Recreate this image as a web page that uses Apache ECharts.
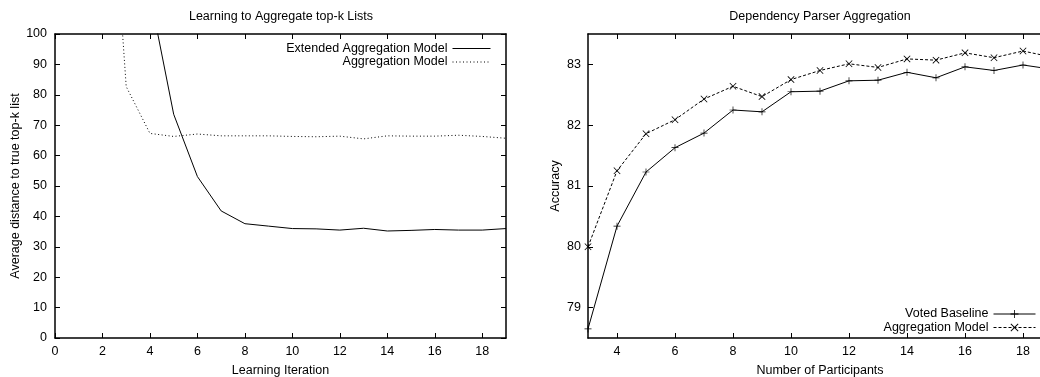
<!DOCTYPE html>
<html>
<head>
<meta charset="utf-8">
<script src="https://cdn.jsdelivr.net/npm/echarts@6/dist/echarts.min.js"></script>
<style>
html,body{margin:0;padding:0;background:#fff;}
#wrap{position:relative;width:1040px;height:377px;overflow:hidden;background:#fff;}
#c1{position:absolute;left:0;top:0;width:520px;height:377px;}
#c2{position:absolute;left:520px;top:0;width:520px;height:377px;}
</style>
</head>
<body>
<div id="wrap"><div id="c1"></div><div id="c2"></div></div>
<script>
// ---- Left chart data ----
const leftTitle = 'Learning to Aggregate top-k Lists';
const leftXName = 'Learning Iteration';
const leftYName = 'Average distance to true top-k list';
const leftXTicks = [0, 2, 4, 6, 8, 10, 12, 14, 16, 18];
const extName = 'Extended Aggregation Model';
const extX = [4, 5, 6, 7, 8, 9, 10, 11, 12, 13, 14, 15, 16, 17, 18, 19];
const extY = [113, 73.6, 53.1, 41.8, 37.6, 36.8, 36.0, 35.9, 35.5, 36.1, 35.2, 35.4, 35.7, 35.5, 35.5, 36.0];
const aggName = 'Aggregation Model';
const aggX = [2, 3, 4, 5, 6, 7, 8, 9, 10, 11, 12, 13, 14, 15, 16, 17, 18, 19];
const aggY = [196, 82.7, 67.3, 66.3, 67.1, 66.5, 66.5, 66.5, 66.3, 66.2, 66.4, 65.5, 66.5, 66.4, 66.4, 66.7, 66.3, 65.7];

// ---- Right chart data ----
const rightTitle = 'Dependency Parser Aggregation';
const rightXName = 'Number of Participants';
const rightYName = 'Accuracy';
const participants = [3, 4, 5, 6, 7, 8, 9, 10, 11, 12, 13, 14, 15, 16, 17, 18, 19];
const votedName = 'Voted Baseline';
const votedY = [78.65, 80.34, 81.23, 81.63, 81.87, 82.25, 82.22, 82.55, 82.56, 82.73, 82.74, 82.87, 82.78, 82.96, 82.90, 82.99, 82.92];
const modelName = 'Aggregation Model';
const modelY = [80.0, 81.25, 81.86, 82.09, 82.43, 82.64, 82.47, 82.75, 82.90, 83.01, 82.95, 83.09, 83.07, 83.19, 83.11, 83.22, 83.12];
const rightXTicks = [4, 6, 8, 10, 12, 14, 16, 18];
const rightYTicks = [79, 80, 81, 82, 83];

const FONT = 'Liberation Sans, Arial, Helvetica, sans-serif';
const FS = 12.5;
const BLACK = '#000';
const PLUS = 'path://M4.5,0h1v4.5h4.5v1h-4.5v4.5h-1v-4.5h-4.5v-1h4.5z';
const CROSS = 'path://M0,0.8L0.8,0L5,4.2L9.2,0L10,0.8L5.8,5L10,9.2L9.2,10L5,5.8L0.8,10L0,9.2L4.2,5z';

function pairs(xs, ys) { return xs.map((x, i) => [x, ys[i]]); }

function baseAxis(extra) {
  return Object.assign({
    type: 'value',
    nameMoveOverlap: false,
    axisLine: { show: true, onZero: false, lineStyle: { color: BLACK, width: 1.5 } },
    axisTick: { show: true, inside: true, length: 5, lineStyle: { color: BLACK, width: 1 } },
    axisLabel: { color: BLACK, fontFamily: FONT, fontSize: FS },
    splitLine: { show: false },
    nameTextStyle: { color: BLACK, fontFamily: FONT, fontSize: FS }
  }, extra);
}

function hiddenMirror(extra, ticks) {
  const a = baseAxis(extra);
  a.axisLabel = { show: false };
  if (ticks) a.axisTick.customValues = ticks;
  return a;
}

// ---------- Left chart ----------
const c1 = echarts.init(document.getElementById('c1'), null, { renderer: 'canvas' });
c1.setOption({
  animation: false,
  backgroundColor: '#fff',
  title: {
    text: leftTitle, left: 281, top: 10, padding: 0, textAlign: 'center',
    textStyle: { color: BLACK, fontFamily: FONT, fontSize: FS, fontWeight: 'normal' }
  },
  grid: { left: 55, right: 14, top: 34, bottom: 39, outerBoundsMode: 'none', containLabel: false },
  legend: {
    orient: 'vertical', right: 29, top: 42, align: 'right', selectedMode: false,
    itemWidth: 38, itemHeight: 10, itemGap: 0.5, padding: 0,
    itemStyle: { opacity: 0 },
    lineStyle: { width: 1 },
    textStyle: { color: BLACK, fontFamily: FONT, fontSize: FS, lineHeight: 12 },
    data: [extName, aggName]
  },
  xAxis: [
    baseAxis({ min: 0, max: 19, position: 'bottom',
      name: leftXName, nameLocation: 'middle', nameGap: 26,
      axisLabel: { color: BLACK, fontFamily: FONT, fontSize: FS, margin: 7, customValues: leftXTicks },
      axisTick: { show: true, inside: true, length: 5, lineStyle: { color: BLACK, width: 1 }, customValues: leftXTicks } }),
    hiddenMirror({ min: 0, max: 19, position: 'top' }, leftXTicks)
  ],
  yAxis: [
    baseAxis({ min: 0, max: 100, interval: 10, position: 'left',
      name: leftYName, nameLocation: 'middle', nameGap: 33,
      axisLabel: { color: BLACK, fontFamily: FONT, fontSize: FS, margin: 8 } }),
    hiddenMirror({ min: 0, max: 100, interval: 10, position: 'right' })
  ],
  series: [
    { name: extName, type: 'line', xAxisIndex: 0, yAxisIndex: 0, data: pairs(extX, extY),
      symbol: 'none', clip: true, lineStyle: { color: BLACK, width: 1 }, itemStyle: { color: BLACK } },
    { name: aggName, type: 'line', xAxisIndex: 0, yAxisIndex: 0, data: pairs(aggX, aggY),
      symbol: 'none', clip: true, lineStyle: { color: BLACK, width: 1, type: [1, 2.5] }, itemStyle: { color: BLACK } }
  ]
});

// ---------- Right chart ----------
const c2 = echarts.init(document.getElementById('c2'), null, { renderer: 'canvas' });
c2.setOption({
  animation: false,
  backgroundColor: '#fff',
  title: {
    text: rightTitle, left: 300, top: 10, padding: 0, textAlign: 'center',
    textStyle: { color: BLACK, fontFamily: FONT, fontSize: FS, fontWeight: 'normal' }
  },
  grid: { left: 68, width: 464, top: 34, bottom: 39, outerBoundsMode: 'none', containLabel: false },
  legend: {
    orient: 'vertical', right: 4, bottom: 43, align: 'right', selectedMode: false,
    itemWidth: 42, itemHeight: 10, itemGap: 0.5, padding: 0,
    lineStyle: { width: 1 },
    textStyle: { color: BLACK, fontFamily: FONT, fontSize: FS, lineHeight: 12 },
    data: [votedName, modelName]
  },
  xAxis: [
    baseAxis({ min: 3, max: 19, position: 'bottom',
      name: rightXName, nameLocation: 'middle', nameGap: 26,
      axisLabel: { color: BLACK, fontFamily: FONT, fontSize: FS, margin: 7, customValues: rightXTicks },
      axisTick: { show: true, inside: true, length: 5, lineStyle: { color: BLACK, width: 1 }, customValues: rightXTicks } }),
    hiddenMirror({ min: 3, max: 19, position: 'top' }, rightXTicks)
  ],
  yAxis: [
    baseAxis({ min: 78.5, max: 83.5, position: 'left',
      name: rightYName, nameLocation: 'middle', nameGap: 26,
      axisLabel: { color: BLACK, fontFamily: FONT, fontSize: FS, margin: 7, customValues: rightYTicks },
      axisTick: { show: true, inside: true, length: 5, lineStyle: { color: BLACK, width: 1 }, customValues: rightYTicks } }),
    hiddenMirror({ min: 78.5, max: 83.5, position: 'right' }, rightYTicks)
  ],
  series: [
    { name: votedName, type: 'line', data: pairs(participants, votedY),
      symbol: PLUS, symbolSize: 7, showAllSymbol: true, clip: false,
      lineStyle: { color: BLACK, width: 1 }, itemStyle: { color: BLACK } },
    { name: modelName, type: 'line', data: pairs(participants, modelY),
      symbol: CROSS, symbolSize: 7, showAllSymbol: true, clip: false,
      lineStyle: { color: BLACK, width: 1, type: [3, 2] }, itemStyle: { color: BLACK } }
  ]
});
</script>
</body>
</html>
